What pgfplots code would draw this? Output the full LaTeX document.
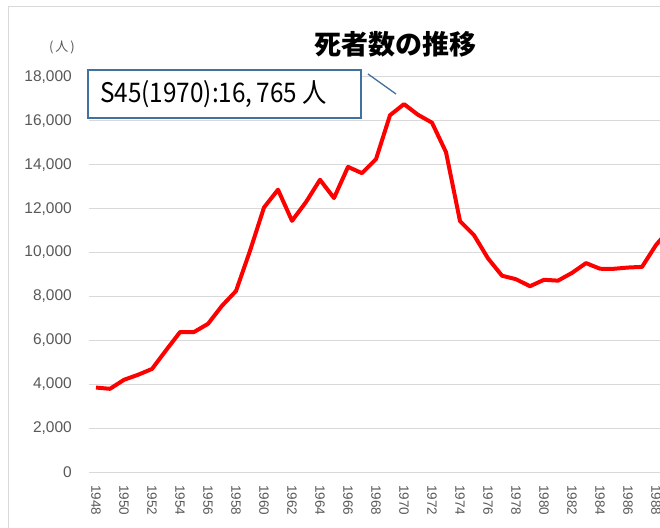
\documentclass[border=0pt]{standalone}
\usepackage{pgfplots}
\pgfplotsset{compat=1.18}
\usepackage{fontspec}
\setmainfont{Liberation Sans}
\newfontfamily\cjk{Noto Sans CJK JP}
\definecolor{txtgray}{RGB}{89,89,89}
\definecolor{gridgray}{RGB}{217,217,217}
\definecolor{boxblue}{RGB}{65,113,156}
\begin{document}
\begin{tikzpicture}[x=1pt,y=1pt]
\path[use as bounding box, clip] (0,0) rectangle (660,527);
\fill[white] (0,0) rectangle (660,527);
\draw[gridgray, line width=1pt] (8,-10) -- (8,520) -- (700,520);
\begin{axis}[
  at={(89pt,55pt)}, anchor=south west,
  scale only axis, width=602pt, height=395pt,
  xmin=1947.5, xmax=1990.5, ymin=0, ymax=18000,
  xtick={1948,1950,...,1988},
  ytick={0,2000,...,18000},
  scaled y ticks=false,
  ymajorgrids, major grid style={draw=gridgray, line width=1pt},
  axis line style={draw=none},
  tick style={draw=none},
  /pgf/number format/assume math mode=true,
  yticklabel style={font=\fontsize{15.5}{17}\selectfont, text=txtgray, inner sep=0pt, /pgf/number format/1000 sep={,}},
  yticklabel shift=17pt,
  xticklabel style={font=\fontsize{13.5}{15}\selectfont, text=txtgray, rotate=-90, anchor=west, inner sep=0pt, /pgf/number format/1000 sep={}},
  xticklabel shift=13pt,
  clip=true,
]
\addplot[red, line width=4pt, line join=round, mark=none] coordinates {
(1948,3848) (1949,3790) (1950,4202) (1951,4429) (1952,4696) (1953,5544)
(1954,6374) (1955,6379) (1956,6751) (1957,7575) (1958,8248) (1959,10079)
(1960,12055) (1961,12865) (1962,11445) (1963,12301) (1964,13318) (1965,12484)
(1966,13904) (1967,13618) (1968,14256) (1969,16257) (1970,16765) (1971,16278)
(1972,15918) (1973,14574) (1974,11432) (1975,10792) (1976,9734) (1977,8945)
(1978,8783) (1979,8466) (1980,8760) (1981,8719) (1982,9073) (1983,9520)
(1984,9262) (1985,9261) (1986,9317) (1987,9347) (1988,10344) (1989,11086)
(1990,11227)
};
\end{axis}
\node[text=txtgray, font=\cjk\fontsize{13}{15}\selectfont, inner sep=0pt] at (62,480) {(\kern2pt 人\kern2pt)};
\node[font=\cjk\bfseries\fontsize{27}{30}\selectfont, inner sep=0pt] at (395,483) {死者数の推移};
\draw[boxblue, line width=1.3pt] (368,453) -- (396,433);
\draw[boxblue, line width=1.5pt, fill=white] (88,457) rectangle (361,409);
\node[anchor=west, inner sep=0pt] at (100,433) {\scalebox{0.9}[1]{\cjk\fontsize{27}{30}\selectfont S45(1970):16,\,765 人}};
\end{tikzpicture}
\end{document}
